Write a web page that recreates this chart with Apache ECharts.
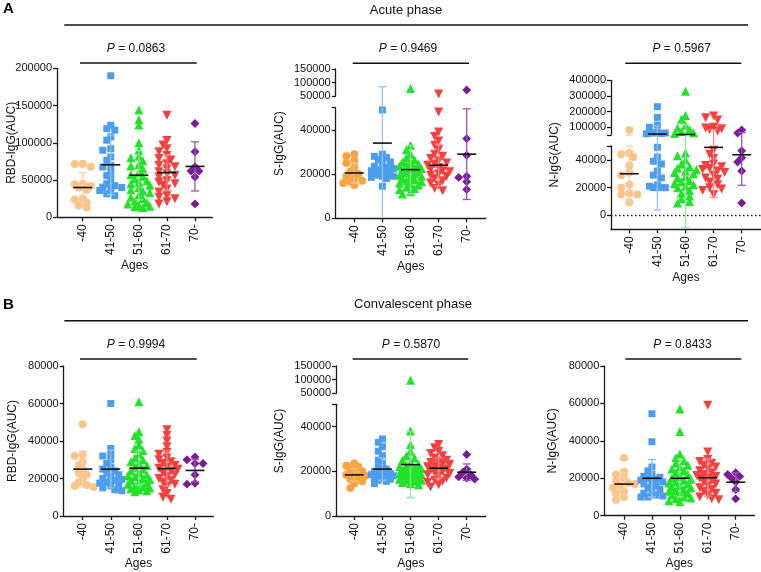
<!DOCTYPE html>
<html><head><meta charset="utf-8">
<script src="https://cdn.jsdelivr.net/npm/echarts@6/dist/echarts.min.js"></script>
<style>html,body{margin:0;padding:0;background:#fff}#c{width:761px;height:572px}</style>
</head><body><div id="c"></div>
<script>
// ---------------- DATA ----------------
const categories = ['-40', '41-50', '51-60', '61-70', '70-'];
const phaseTitles = ['Acute phase', 'Convalescent phase'];
const panelLetters = ['A', 'B'];
const yNames = ['RBD-IgG(AUC)', 'S-IgG(AUC)', 'N-IgG(AUC)', 'RBD-IgG(AUC)', 'S-IgG(AUC)', 'N-IgG(AUC)'];
const pValues = ['0.0863', '0.9469', '0.5967', '0.9994', '0.5870', '0.8433'];

const acuteRBD = [
  [72000, 71500, 68000, 45000, 44000, 42000, 40000, 37000, 25000, 24000, 20000, 16000, 13000],
  [190000, 123500, 119000, 117000, 108000, 103500, 92000, 90000, 81000, 76500, 69500, 67500, 60500, 56000, 51500, 45000, 42500, 40500, 40000, 38000, 36000, 31500, 29000],
  [144000, 131000, 124000, 100000, 90000, 82000, 80000, 76000, 71000, 69000, 65000, 60000, 57000, 55000, 52000, 49000, 47000, 45000, 43000, 40000, 37000, 35000, 33000, 30000, 27000, 25000, 22000, 20000, 18000, 16000, 15000, 14000, 13000],
  [137000, 103000, 97000, 92000, 88000, 83000, 79000, 77000, 72000, 70000, 68000, 65000, 61000, 58000, 56000, 54000, 49000, 47000, 45000, 43000, 38000, 34000, 29000, 27000, 25000, 21000, 18000],
  [126000, 88000, 68000, 62000, 62000, 54000, 18000]
];
const acuteRBDMean = [40000, 70500, 56500, 60000, 68300];
const acuteRBDSD = [20000, 40000, 33000, 24000, 33000];

const acuteS = [
  [29000, 28000, 26000, 25000, 23000, 21000, 20000, 19000, 18000, 17000, 16500, 16000, 15000],
  [49000, 29000, 28000, 27500, 26500, 25500, 24500, 23500, 23000, 22500, 22000, 21500, 21000, 20500, 20000, 20000, 19500, 19000, 19000, 18500, 18000, 14500],
  [79000, 33000, 31000, 29000, 27500, 26500, 25500, 25000, 24500, 24000, 23500, 23000, 22500, 22000, 21500, 21000, 20500, 20000, 19500, 19000, 18500, 18000, 17500, 17000, 16500, 16000, 15500, 15000, 14000, 13500, 13000, 12000, 11000],
  [58000, 48000, 39000, 37000, 35000, 33000, 31000, 29000, 28000, 27000, 26000, 25000, 24500, 24000, 23000, 22000, 21500, 21000, 20000, 19500, 19000, 18000, 17000, 16000, 15000, 13500, 12500],
  [73000, 36000, 28500, 19000, 18500, 16500, 13000]
];
const acuteSMean = [20500, 34000, 22000, 24000, 29000];
const acuteSSD = [4500, 51000, 11000, 9500, 20500];

const acuteN = [
  [82000, 45000, 44000, 42000, 36000, 31000, 29000, 22000, 20000, 16000, 15000, 15000, 9500],
  [231000, 163000, 114000, 100000, 68000, 65000, 63000, 62000, 60000, 58000, 49000, 42000, 39000, 37000, 32000, 29000, 27000, 22000, 21000, 20000, 20000, 20000],
  [330000, 175000, 150000, 110000, 95000, 85000, 72000, 65000, 60000, 45000, 43000, 40000, 37000, 35000, 34000, 33000, 32000, 31000, 30000, 28000, 27000, 25000, 24000, 23000, 22000, 21000, 20000, 18000, 16000, 14000, 12000, 10000, 9000],
  [172000, 160000, 146000, 100000, 95000, 90000, 85000, 75000, 47000, 44000, 41000, 37000, 36000, 35000, 34000, 33000, 32000, 31000, 29000, 27000, 26000, 24000, 22000, 20000, 19000, 18000, 15000],
  [82000, 62000, 46500, 41500, 38500, 32000, 9000]
];
const acuteNMean = [30000, 56000, 53000, 49000, 43700];
const acuteNSD = [20000, 52000, 62000, 36000, 22000];

const convRBD = [
  [49000, 33000, 32000, 29000, 27000, 25000, 23000, 22000, 20000, 18000, 16500, 16000, 15500],
  [60000, 36000, 33000, 32000, 30000, 28000, 26000, 25000, 24000, 23000, 22000, 21000, 20000, 19500, 19000, 18000, 17500, 17000, 16000, 15000, 14000, 13500],
  [61000, 45000, 43000, 41000, 38000, 36000, 35000, 33000, 31000, 30000, 29000, 28000, 27000, 26000, 25000, 24000, 23000, 22000, 21500, 21000, 20000, 19500, 19000, 18000, 17500, 17000, 16000, 15500, 15000, 14500, 14000, 13500, 13000],
  [46000, 43000, 40000, 37000, 34000, 33000, 31000, 30000, 29000, 28000, 27000, 26000, 25500, 25000, 24000, 23000, 22000, 21000, 20000, 19000, 18000, 17000, 16000, 14000, 12000, 10000, 9000],
  [31500, 30000, 28000, 28000, 22000, 17500, 17000]
];
const convRBDMean = [25000, 25000, 25500, 25300, 24300];
const convRBDSD = [9500, 10000, 9000, 9500, 6000];

const convS = [
  [23500, 22500, 22000, 21000, 20000, 19000, 18500, 18000, 17500, 16500, 15500, 14500, 12500],
  [34500, 33000, 31000, 29000, 27000, 25000, 23500, 22000, 21000, 20000, 19500, 19000, 19000, 18500, 18000, 18000, 17500, 17000, 16500, 16000, 15500, 14500],
  [98000, 38000, 32000, 29000, 27000, 26000, 25000, 24000, 23000, 22500, 22000, 21500, 21000, 21000, 20500, 20000, 20000, 19500, 19000, 19000, 18500, 18000, 18000, 17500, 17000, 17000, 16500, 16000, 16000, 15500, 15000, 14500, 14000],
  [32000, 30500, 29000, 28000, 27000, 26000, 25000, 24500, 24000, 23500, 23000, 22500, 22000, 21500, 21000, 20500, 20000, 19500, 19000, 18500, 18000, 17000, 16000, 15500, 15000, 14000, 13000],
  [27500, 21000, 19500, 18500, 17500, 17000, 16500]
];
const convSMean = [18400, 21000, 23000, 21400, 19600];
const convSSD = [2800, 5000, 14800, 4500, 3700];

const convN = [
  [31000, 23500, 22000, 20000, 18500, 17500, 17000, 16000, 15000, 13000, 12000, 10000, 8500],
  [54500, 39500, 26000, 24000, 22000, 21000, 20500, 20000, 19500, 19000, 18000, 17500, 17000, 16000, 15000, 14000, 13000, 12000, 11000, 10500, 10000, 10000],
  [57000, 45000, 33000, 31000, 29500, 28000, 27000, 26000, 25000, 24000, 23000, 22000, 21000, 20000, 19500, 19000, 18000, 17500, 17000, 16000, 15500, 15000, 14000, 13500, 13000, 12000, 11500, 11000, 10000, 9500, 9000, 8000, 7500],
  [59000, 34000, 30000, 29000, 28000, 27000, 26000, 25000, 24000, 23000, 22000, 21500, 21000, 20500, 20000, 19000, 18000, 17000, 16000, 15000, 14000, 13000, 12000, 11000, 10000, 9000, 8500],
  [23000, 22000, 21000, 20000, 18000, 14000, 9000]
];
const convNMean = [16900, 20000, 20000, 20300, 17900];
const convNSD = [6300, 10000, 10000, 10000, 5000];

// y-axis tick values / labels
const ticksRBDAcute = [0, 50000, 100000, 150000, 200000];
const ticksSUpper = [50000, 100000, 150000];
const ticksSLower = [0, 20000, 40000];
const ticksNUpper = [100000, 200000, 300000, 400000];
const ticksNLower = [0, 20000, 40000];
const ticksConv80 = [0, 20000, 40000, 60000, 80000];

// ---------------- STYLE / LAYOUT ----------------
const FONT = '"Liberation Sans", Arial, Helvetica, sans-serif';
const AX = '#1a1a1a';
const TXT = '#111';
const ORANGE_LIGHT = '#FCC48A', ORANGE_DEEP = '#F8A444';
const groupColors = [ORANGE_LIGHT, '#4D9DEF', '#22E22A', '#F5403F', '#781C98'];
const barColors = ['#F9CFA2', '#90C2F2', '#86EC8A', '#F68E8E', '#9C52B8'];
const groupSymbols = ['circle', 'rect', 'triangle', 'triangle', 'rect'];
const groupRotate = [0, 0, 0, 180, 45];
const groupSizes = [8, 7, 9, 9, 6.3];

const panels = [
  { data: acuteRBD, mean: acuteRBDMean, sd: acuteRBDSD, name: yNames[0], p: pValues[0], orange: ORANGE_LIGHT,
    axisX: 57, cat1X: 82.7, cat5X: 195, endX: 212.3, nameX: 12,
    segs: [{ top: 68.3, bottom: 217.3, min: 0, max: 200000, ticks: ticksRBDAcute, labels: ticksRBDAcute }],
    pX: 136, pY: 49, pL: [80, 196.7, 63] },
  { data: acuteS, mean: acuteSMean, sd: acuteSSD, name: yNames[1], p: pValues[1], orange: ORANGE_DEEP,
    axisX: 335.7, cat1X: 354.3, cat5X: 466.7, endX: 485.7, nameX: 280,
    segs: [{ top: 69, bottom: 96.3, min: 50000, max: 150000, ticks: ticksSUpper, labels: ticksSUpper },
           { top: 107.7, bottom: 218.3, min: 0, max: 50000, ticks: ticksSLower.concat([50000]), labels: ticksSLower }],
    pX: 408, pY: 49, pL: [352.7, 469, 63.3] },
  { data: acuteN, mean: acuteNMean, sd: acuteNSD, name: yNames[2], p: pValues[2], orange: ORANGE_LIGHT,
    axisX: 611, cat1X: 629.3, cat5X: 741.7, endX: 761, nameX: 555, zeroLine: true,
    segs: [{ top: 80.3, bottom: 135, min: 50000, max: 400000, ticks: [50000].concat(ticksNUpper), labels: ticksNUpper },
           { top: 146, bottom: 229.3, min: -10000, max: 50000, ticks: ticksNLower.concat([50000]), labels: ticksNLower }],
    pX: 681.7, pY: 49, pL: [625.3, 741.3, 63.3] },
  { data: convRBD, mean: convRBDMean, sd: convRBDSD, name: yNames[3], p: pValues[3], orange: ORANGE_LIGHT,
    axisX: 63.7, cat1X: 82.7, cat5X: 195, endX: 213.3, nameX: 12.7,
    segs: [{ top: 366, bottom: 516, min: 0, max: 80000, ticks: ticksConv80, labels: ticksConv80 }],
    pX: 136, pY: 345, pL: [80, 196.7, 359] },
  { data: convS, mean: convSMean, sd: convSSD, name: yNames[4], p: pValues[4], orange: ORANGE_DEEP,
    axisX: 336, cat1X: 354.3, cat5X: 466.7, endX: 485.7, nameX: 280,
    segs: [{ top: 366, bottom: 393.3, min: 50000, max: 150000, ticks: ticksSUpper, labels: ticksSUpper },
           { top: 404.3, bottom: 516, min: 0, max: 50000, ticks: ticksSLower.concat([50000]), labels: ticksSLower }],
    pX: 411, pY: 344.5, pL: [352.7, 468.3, 359] },
  { data: convN, mean: convNMean, sd: convNSD, name: yNames[5], p: pValues[5], orange: ORANGE_LIGHT,
    axisX: 604.3, cat1X: 624, cat5X: 735.7, endX: 754.3, nameX: 553,
    segs: [{ top: 366, bottom: 515.7, min: 0, max: 80000, ticks: ticksConv80, labels: ticksConv80 }],
    pX: 682.5, pY: 344.5, pL: [625.3, 741.3, 359] }
];

// beeswarm-style horizontal spread (layout only, pixels)
function swarm(vals, cat, S, pxX) {
  const pxY = (S.bottom - S.top) / (S.max - S.min);
  const sorted = vals.slice().sort((a, b) => b - a);
  const placed = [], out = [];
  const offs = [0, -4, 4, -8, 8, -11, 11];
  sorted.forEach(v => {
    const py = (v - S.min) * pxY;
    let best = 0, bestD = -1;
    for (const o of offs) {
      let dmin = Infinity;
      for (const p of placed) { const d = Math.hypot(p[0] - o, p[1] - py); if (d < dmin) dmin = d; }
      if (dmin >= 5) { best = o; bestD = dmin; break; }
      if (dmin > bestD) { bestD = dmin; best = o; }
    }
    placed.push([best, py]);
    out.push([cat + best / pxX, v]);
  });
  return out;
}

const option = { animation: false, backgroundColor: '#fff', grid: [], xAxis: [], yAxis: [], series: [], graphic: [] };
const txtStyle = (sz) => ({ fontSize: sz, fontFamily: FONT, color: TXT });

panels.forEach((P, pi) => {
  const spacing = (P.cat5X - P.cat1X) / 4;
  const xmin = 1 - (P.cat1X - P.axisX) / spacing;
  const xmax = 5 + (P.endX - P.cat5X) / spacing;
  const nSeg = P.segs.length;
  P.segs.forEach((S, si) => {
    const isLower = si === nSeg - 1;
    const gi = option.grid.length;
    const lowerBound = isLower ? -Infinity : P.segs[nSeg - 1].max;
    S.gapAbove = si > 0 ? S.top - P.segs[si - 1].bottom : 0;
    option.grid.push({ left: P.axisX, top: S.top, width: P.endX - P.axisX, height: S.bottom - S.top,
      containLabel: false, outerBoundsMode: 'none' });
    option.xAxis.push({
      gridIndex: gi, type: 'value', min: xmin, max: xmax, show: isLower, position: 'bottom',
      axisLine: { onZero: false, lineStyle: { color: AX, width: 1.3 } },
      splitLine: { show: false },
      axisTick: { show: true, customValues: [1, 2, 3, 4, 5], length: 4, lineStyle: { color: AX, width: 1.3 } },
      axisLabel: { show: true, customValues: [1, 2, 3, 4, 5], formatter: v => categories[Math.round(v) - 1] || '',
        rotate: 90, margin: 7, ...txtStyle(12) },
      name: isLower ? 'Ages' : '', nameLocation: 'middle', nameGap: 42, nameTextStyle: txtStyle(12)
    });
    option.yAxis.push({
      gridIndex: gi, type: 'value', min: S.min, max: S.max,
      axisLine: { show: true, onZero: false, lineStyle: { color: AX, width: 1.3 } },
      axisTick: { show: true, customValues: S.ticks, length: 4, lineStyle: { color: AX, width: 1.3 } },
      axisLabel: { show: true, customValues: S.labels, formatter: v => String(v), margin: 5, ...txtStyle(11) },
      splitLine: { show: false }
    });
    // scatter points per group
    P.data.forEach((vals, k) => {
      const inSeg = vals.filter(v => isLower ? v <= S.max : v > lowerBound);
      if (!inSeg.length) return;
      option.series.push({
        type: 'scatter', xAxisIndex: gi, yAxisIndex: gi, z: 2, silent: true,
        symbol: groupSymbols[k], symbolRotate: groupRotate[k], symbolSize: groupSizes[k],
        itemStyle: { color: k === 0 ? P.orange : groupColors[k], opacity: 1 },
        data: swarm(inSeg, k + 1, S, spacing)
      });
    });
    // mean + SD
    const barSeries = {
      type: 'custom', xAxisIndex: gi, yAxisIndex: gi, z: 5, silent: true, clip: false,
      data: P.mean.map((m, k) => [k + 1, m, P.sd[k], k]),
      renderItem: (params, api) => {
        const cat = api.value(0), m = api.value(1), s = api.value(2), k = api.value(3);
        const lo = m - s, hi = m + s;
        const xc = api.coord([cat, S.min])[0];
        const yOf = v => api.coord([cat, v])[1];
        const col = k === 0 && P.orange === ORANGE_DEEP ? '#F9C48A' : barColors[k];
        const ch = [];
        const vLo = Math.max(lo, S.min), vHi = Math.min(hi, S.max);
        if (vLo < vHi) {
          let y1 = yOf(vLo), y2 = yOf(vHi);
          if (hi > S.max && S.gapAbove) y2 -= S.gapAbove;
          ch.push({ type: 'line', shape: { x1: xc, y1: y1, x2: xc, y2: y2 }, style: { stroke: col, lineWidth: 1.3 } });
        }
        [lo, hi].forEach(v => {
          if (v >= S.min && v <= S.max) {
            const y = yOf(v);
            ch.push({ type: 'line', shape: { x1: xc - 4, y1: y, x2: xc + 4, y2: y }, style: { stroke: col, lineWidth: 1.3 } });
          }
        });
        if (m >= S.min && m <= S.max) {
          const y = yOf(m);
          ch.push({ type: 'line', shape: { x1: xc - 9.5, y1: y, x2: xc + 9.5, y2: y }, style: { stroke: '#111', lineWidth: 1.6 } });
        }
        return { type: 'group', children: ch };
      }
    };
    if (P.zeroLine && isLower) {
      barSeries.markLine = { silent: true, symbol: ['none', 'none'], label: { show: false },
        lineStyle: { type: [1.5, 2.5], color: '#222', width: 1.3 }, data: [{ yAxis: 0 }] };
    }
    option.series.push(barSeries);
  });
  // y-axis name
  const yc = (P.segs[0].top + P.segs[nSeg - 1].bottom) / 2;
  option.graphic.push({ type: 'text', x: P.nameX, y: yc, rotation: Math.PI / 2,
    style: { text: P.name, align: 'center', verticalAlign: 'middle', textAlign: 'center', textVerticalAlign: 'middle',
      font: '12px ' + FONT, fill: TXT } });
  // P value text + bracket line
  option.graphic.push({ type: 'text', x: P.pX, y: P.pY,
    style: { text: '{i|P} = ' + P.p, align: 'center', verticalAlign: 'middle', textAlign: 'center', textVerticalAlign: 'middle',
      font: '12px ' + FONT, fill: TXT,
      rich: { i: { fontStyle: 'italic', fontSize: 12, fontFamily: FONT, fill: TXT, color: TXT } } } });
  option.graphic.push({ type: 'line', shape: { x1: P.pL[0], y1: P.pL[2], x2: P.pL[1], y2: P.pL[2] },
    style: { stroke: '#111', lineWidth: 1.4 } });
});

// section headers
option.graphic.push(
  { type: 'text', x: 3, y: 1, style: { text: panelLetters[0], font: 'bold 15px ' + FONT, fill: '#000' } },
  { type: 'text', x: 3, y: 297, style: { text: panelLetters[1], font: 'bold 15px ' + FONT, fill: '#000' } },
  { type: 'text', x: 406, y: 10, style: { text: phaseTitles[0], align: 'center', verticalAlign: 'middle', textAlign: 'center', textVerticalAlign: 'middle', font: '13px ' + FONT, fill: TXT } },
  { type: 'text', x: 413, y: 304, style: { text: phaseTitles[1], align: 'center', verticalAlign: 'middle', textAlign: 'center', textVerticalAlign: 'middle', font: '13px ' + FONT, fill: TXT } },
  { type: 'line', shape: { x1: 64.3, y1: 25, x2: 748, y2: 25 }, style: { stroke: '#111', lineWidth: 1.4 } },
  { type: 'line', shape: { x1: 64.3, y1: 320.7, x2: 748, y2: 320.7 }, style: { stroke: '#111', lineWidth: 1.4 } }
);

const chart = echarts.init(document.getElementById('c'), null, { renderer: 'canvas', width: 761, height: 572 });
chart.setOption(option);
</script></body></html>
